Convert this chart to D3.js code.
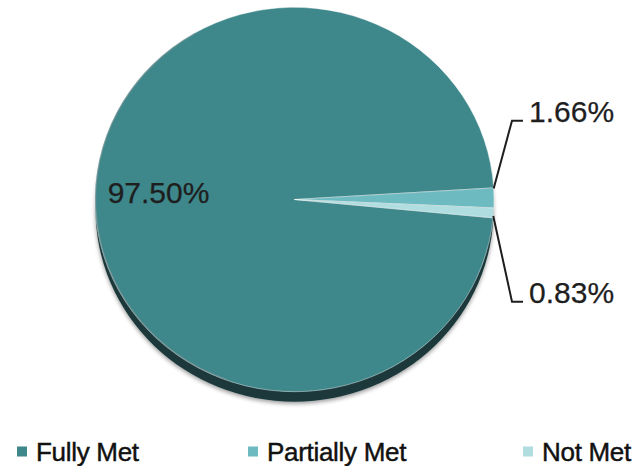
<!DOCTYPE html>
<html>
<head>
<meta charset="utf-8">
<script src="https://cdn.jsdelivr.net/npm/d3@7"></script>
<style>
  html, body { margin: 0; padding: 0; background: #fff; }
  svg { display: block; font-family: "Liberation Sans", Arial, sans-serif; }
</style>
</head>
<body>
<svg id="chart" width="633" height="466"></svg>
<script>
// Compliance breakdown
const categories = ["Fully Met", "Partially Met", "Not Met"];
const shares = [97.50, 1.66, 0.83];
const valueLabels = ["97.50%", "1.66%", "0.83%"];
const sliceColors = ["#3e878b", "#6dbac0", "#b0dde0"];

const W = 633, H = 466;
const cx = 294.5, cy = 199.5;
const rx = 199.5, ry = 192.2;   // slightly tilted pie (ellipse)
const depth = 10;               // visible thickness under the pie
const rimColor = "#1a393b";

const svg = d3.select("#chart");
const defs = svg.append("defs");

const shadow = defs.append("filter").attr("id", "soft")
  .attr("x", "-10%").attr("y", "-10%").attr("width", "120%").attr("height", "125%");
shadow.append("feGaussianBlur").attr("in", "SourceAlpha").attr("stdDeviation", 2).attr("result", "b");
shadow.append("feOffset").attr("in", "b").attr("dx", 0).attr("dy", 2).attr("result", "o");
shadow.append("feComponentTransfer").attr("in", "o").attr("result", "s")
  .append("feFuncA").attr("type", "linear").attr("slope", 0.4);
const merge = shadow.append("feMerge");
merge.append("feMergeNode").attr("in", "s");
merge.append("feMergeNode").attr("in", "SourceGraphic");

const edge = defs.append("filter").attr("id", "edge");
edge.append("feGaussianBlur").attr("stdDeviation", 0.6);

// pie layout: Fully Met starts just below 3 o'clock and runs clockwise
const start = 95.5 * Math.PI / 180;
const pie = d3.pie().sort(null).value(d => d.v)
  .startAngle(start).endAngle(start + 2 * Math.PI);
const data = pie(categories.map((c, i) => ({ c, v: shares[i], label: valueLabels[i], color: sliceColors[i] })));

const arc = d3.arc().innerRadius(0).outerRadius(rx);
const sy = ry / rx;

// thickness of the pie, drawn as a dark ellipse shifted down
svg.append("ellipse")
  .attr("cx", cx).attr("cy", cy + depth)
  .attr("rx", rx - 0.5).attr("ry", ry)
  .attr("fill", rimColor)
  .attr("filter", "url(#soft)");

const pieG = svg.append("g")
  .attr("transform", `translate(${cx},${cy}) scale(1,${sy})`);

pieG.selectAll("path.slice")
  .data(data)
  .join("path")
  .attr("class", "slice")
  .attr("d", arc)
  .attr("fill", d => d.data.color)
  .attr("stroke", "#ffffff")
  .attr("stroke-opacity", 0.55)
  .attr("stroke-width", 0.8)
  .attr("stroke-linejoin", "round");

// faint edge shading on the left rim
pieG.append("path")
  .attr("d", d3.arc().innerRadius(rx - 1.2).outerRadius(rx)
    .startAngle(200 * Math.PI / 180).endAngle(330 * Math.PI / 180)())
  .attr("fill", "#8a9a9b")
  .attr("opacity", 0.6)
  .attr("filter", "url(#edge)");

// helper: point on the (tilted) pie at a given radius and angle
function onPie(r, a) {
  return [cx + r * Math.sin(a), cy - r * Math.cos(a) * sy];
}

const fontPx = 30;
const ink = "#1e1e1e";

// label inside the large slice
const big = data[0];
const mid = (big.startAngle + big.endAngle) / 2;
const bp = onPie(136, mid);
svg.append("text")
  .attr("x", bp[0]).attr("y", bp[1] + 5.5)
  .attr("text-anchor", "middle")
  .attr("font-size", fontPx)
  .attr("fill", ink)
  .attr("stroke", ink).attr("stroke-width", 0.25)
  .text(big.data.label);

// leader-line labels for the two thin slices
const elbowX = cx + 217.5;
const outside = [
  { d: data[1], ang: data[1].startAngle + 0.2 * Math.PI / 180, ly: cy - 78.8 },
  { d: data[2], ang: data[2].endAngle - 0.6 * Math.PI / 180, ly: cy + 102.2 }
];

outside.forEach(o => {
  const p0 = onPie(rx, o.ang);
  svg.append("polyline")
    .attr("points", [[p0[0], p0[1]], [elbowX, o.ly], [elbowX + 11, o.ly]].map(p => p.join(",")).join(" "))
    .attr("fill", "none")
    .attr("stroke", ink)
    .attr("stroke-width", 2)
    .attr("stroke-linejoin", "miter");
  svg.append("text")
    .attr("x", elbowX + 17).attr("y", o.ly + 1)
    .attr("font-size", fontPx)
    .attr("fill", ink)
    .attr("stroke", ink).attr("stroke-width", 0.25)
    .text(o.d.data.label);
});

// legend
const legendX = [17, 248, 523];
const legendY = 461;
const leg = svg.append("g").selectAll("g")
  .data(categories)
  .join("g")
  .attr("transform", (d, i) => `translate(${legendX[i]},${legendY})`);
leg.append("rect")
  .attr("x", 0).attr("y", -14.5)
  .attr("width", 10).attr("height", 10)
  .attr("fill", (d, i) => sliceColors[i]);
leg.append("text")
  .attr("x", 19).attr("y", 0)
  .attr("font-size", 26)
  .attr("letter-spacing", -0.3)
  .attr("fill", "#111")
  .attr("stroke", "#111").attr("stroke-width", 0.45)
  .text(d => d);
</script>
</body>
</html>
